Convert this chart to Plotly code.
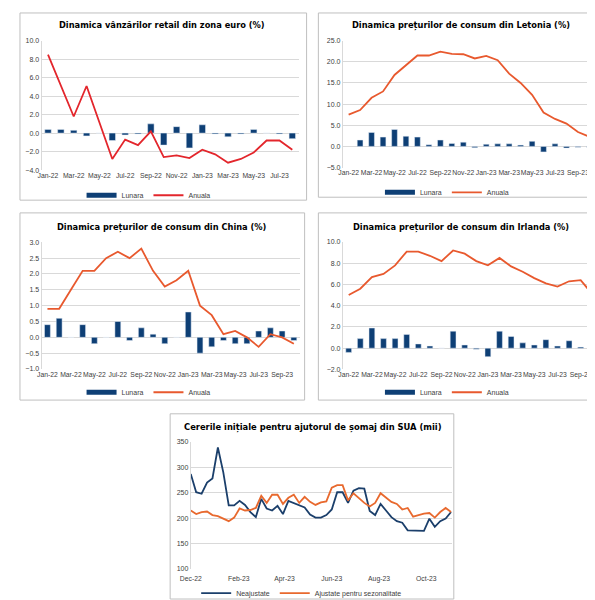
import plotly.graph_objects as go
import pandas as pd

# Dimensiunea paginii
W, H = 595, 600

# Luni (categorii) pentru graficele lunare
luni = ['Jan-22', 'Feb-22', 'Mar-22', 'Apr-22', 'May-22', 'Jun-22', 'Jul-22', 'Aug-22',
        'Sep-22', 'Oct-22', 'Nov-22', 'Dec-22', 'Jan-23', 'Feb-23', 'Mar-23', 'Apr-23',
        'May-23', 'Jun-23', 'Jul-23', 'Aug-23', 'Sep-23', 'Oct-23']
luni_euro = luni[:20]

# Zona euro - vanzari retail
euro_lunara = [0.4, 0.4, 0.3, -0.3, 0.0, -0.8, -0.2, -0.1, 1.0, -1.3, 0.7, -1.6,
               0.9, -0.1, -0.4, -0.1, 0.4, 0.0, -0.1, -0.6]
euro_anuala = [8.5, 5.2, 1.8, 5.1, 1.2, -2.8, -0.7, -1.3, 0.2, -2.6, -2.4, -2.7,
               -1.8, -2.3, -3.2, -2.8, -2.1, -0.8, -0.8, -1.8]

# Letonia - preturi de consum
letonia_lunara = [None, 1.5, 3.3, 2.2, 4.0, 2.4, 2.2, 0.4, 1.5, 0.7, 1.0, -0.3,
                  0.5, 0.6, 0.6, 0.3, 1.2, -1.3, 0.6, -0.4, -0.2, -0.2]
letonia_anuala = [7.5, 8.6, 11.5, 13.0, 16.9, 19.3, 21.5, 21.5, 22.4, 21.9, 21.8, 20.8,
                  21.4, 20.4, 17.2, 15.0, 12.2, 8.0, 6.5, 5.4, 3.4, 2.3]

# China - preturi de consum
china_lunara = [0.4, 0.6, 0.0, 0.4, -0.2, 0.0, 0.5, -0.1, 0.3, 0.1, -0.2, 0.0,
                0.8, -0.5, -0.3, -0.1, -0.2, -0.2, 0.2, 0.3, 0.2, -0.1]
china_anuala = [0.9, 0.9, 1.5, 2.1, 2.1, 2.5, 2.7, 2.5, 2.8, 2.1, 1.6, 1.8,
                2.1, 1.0, 0.7, 0.1, 0.2, 0.0, -0.3, 0.1, 0.0, -0.2]

# Irlanda - preturi de consum
irlanda_lunara = [-0.4, 0.9, 1.9, 0.9, 0.9, 1.3, 0.4, 0.2, 0.0, 1.6, 0.3, -0.1,
                  -0.8, 1.6, 1.1, 0.5, 0.3, 0.8, 0.2, 0.7, 0.1, 0.3]
irlanda_anuala = [5.0, 5.6, 6.7, 7.0, 7.8, 9.1, 9.1, 8.7, 8.2, 9.2, 8.9, 8.2,
                  7.8, 8.5, 7.7, 7.2, 6.6, 6.1, 5.8, 6.3, 6.4, 5.1]

# SUA - cereri initiale de somaj (mii), saptamanal
saptamani = pd.date_range('2022-12-01', periods=49, freq='7D')
somaj_neajustate = [287, 251, 248, 270, 278, 339, 290, 225, 225, 234, 226, 212, 202,
                    238, 219, 215, 224, 208, 234, 230, 225, 221, 207, 201, 201, 206,
                    217, 251, 251, 230, 254, 259, 258, 214, 206, 228, 215, 202, 194,
                    191, 176, 176, 176, 175, 199, 183, 194, 199, 212]
somaj_ajustate = [215, 208, 212, 213, 206, 204, 199, 194, 201, 219, 215, 216, 220,
                  244, 230, 246, 246, 228, 240, 246, 230, 242, 232, 226, 231, 233,
                  260, 265, 265, 235, 249, 239, 230, 223, 230, 249, 240, 232, 228,
                  217, 220, 203, 206, 209, 210, 201, 212, 220, 212]

BLEUMARIN = '#0E3F75'
ROSU = '#E3262C'
PORTOCALIU = '#E8592E'
GRI_TEXT = '#404040'
GRI_GRID = '#D9D9D9'
FONT = 'Liberation Sans, Arial, sans-serif'
# font ingust pentru titluri (cel mai apropiat de original)
FONT_TITLU = 'Liberation Sans Narrow, DejaVu Sans Condensed, Arial Narrow, sans-serif'


def px_x(v):
    return v / W


def px_y(v):
    return 1 - v / H


def add_frame(fig, box):
    """Chenarul gri al fiecarui grafic."""
    x0, y0, x1, y1 = box
    fig.add_shape(type='rect', xref='paper', yref='paper',
                  x0=px_x(x0), x1=px_x(x1), y0=px_y(y1), y1=px_y(y0),
                  line=dict(color='#BFBFBF', width=1), fillcolor='white', layer='below')


def add_title(fig, text, x, y, size=9.2):
    fig.add_annotation(text='<b>' + text + '</b>', xref='paper', yref='paper',
                       x=px_x(x), y=px_y(y), xanchor='center', yanchor='middle',
                       showarrow=False, font=dict(family=FONT_TITLU, size=size, color='#000000'))


def axes(fig, i, plot_box, yrange, dtick, yformat, xcfg):
    x0, y0, x1, y1 = plot_box
    sfx = '' if i == 1 else str(i)
    fig.update_layout({
        'xaxis' + sfx: dict(domain=[px_x(x0), px_x(x1)], anchor='y' + sfx,
                            showgrid=False, zeroline=False, showline=False,
                            ticks='', tickangle=0,
                            tickfont=dict(family=FONT, size=6.8, color=GRI_TEXT),
                            **xcfg),
        'yaxis' + sfx: dict(domain=[px_y(y1), px_y(y0)], anchor='x' + sfx,
                            range=yrange, dtick=dtick, tickformat=yformat,
                            showgrid=True, gridcolor=GRI_GRID, gridwidth=0.8,
                            zeroline=False, showline=True, linecolor=GRI_GRID,
                            ticks='', tickfont=dict(family=FONT, size=7, color=GRI_TEXT)),
    })


def legend_cfg(x, y):
    # decalaj mic spre stanga: cutia legendei plotly are spatiu in plus la dreapta
    return dict(orientation='h', x=px_x(x - 14), y=px_y(y), xanchor='center', yanchor='middle',
                bgcolor='rgba(0,0,0,0)', font=dict(family=FONT, size=7, color=GRI_TEXT),
                itemwidth=30, traceorder='normal')


def monthly_panel(fig, i, titlu, cat, lunara, anuala, culoare_linie, frame, plot_box,
                  titlu_pos, leg_pos, yrange, dtick):
    sfx = '' if i == 1 else str(i)
    xa, ya = 'x' + sfx, 'y' + sfx
    leg = 'legend' + sfx
    add_frame(fig, frame)
    add_title(fig, titlu, *titlu_pos)
    # intrare de legenda pentru bare (dreptunghi lat)
    fig.add_trace(go.Scatter(x=[cat[0]], y=[None], mode='lines', name='Lunara',
                             line=dict(color=BLEUMARIN, width=5), xaxis=xa, yaxis=ya,
                             legend=leg, hoverinfo='skip'))
    fig.add_trace(go.Bar(x=cat, y=lunara, name='Lunara', marker_color=BLEUMARIN,
                         width=0.5, xaxis=xa, yaxis=ya, showlegend=False))
    fig.add_trace(go.Scatter(x=cat, y=anuala, name='Anuala', mode='lines',
                             line=dict(color=culoare_linie, width=1.8),
                             xaxis=xa, yaxis=ya, legend=leg))
    axes(fig, i, plot_box, yrange, dtick, '.1f',
         dict(type='category', range=[-0.5, len(cat) - 0.5],
              tickmode='array', tickvals=cat[::2], ticktext=cat[::2]))
    fig.update_layout({leg: legend_cfg(*leg_pos)})


def main():
    fig = go.Figure()

    monthly_panel(fig, 1, 'Dinamica vânzărilor retail din zona euro (%)', luni_euro,
                  euro_lunara, euro_anuala, ROSU,
                  frame=(1, 1, 293, 192), plot_box=(23, 29.3, 285, 161.3),
                  titlu_pos=(146, 13), leg_pos=(146, 187), yrange=[-4, 10], dtick=2)
    monthly_panel(fig, 2, 'Dinamica prețurilor de consum din Letonia (%)', luni,
                  letonia_lunara, letonia_anuala, PORTOCALIU,
                  frame=(305, 1, 594, 189), plot_box=(330, 29.3, 587, 158.7),
                  titlu_pos=(450, 13), leg_pos=(450, 184), yrange=[-5, 25], dtick=5)
    monthly_panel(fig, 3, 'Dinamica prețurilor de consum din China (%)', luni,
                  china_lunara, china_anuala, PORTOCALIU,
                  frame=(1, 205, 291, 396), plot_box=(23, 235, 286, 364.3),
                  titlu_pos=(146, 219), leg_pos=(146, 388), yrange=[-1, 3], dtick=0.5)
    monthly_panel(fig, 4, 'Dinamica prețurilor de consum din Irlanda (%)', luni,
                  irlanda_lunara, irlanda_anuala, PORTOCALIU,
                  frame=(305, 205, 594, 396), plot_box=(330, 234.7, 590, 364.7),
                  titlu_pos=(450, 219), leg_pos=(450, 388), yrange=[-2, 10], dtick=2)

    # Graficul saptamanal SUA
    add_frame(fig, (154, 410, 443, 599))
    add_title(fig, 'Cererile inițiale pentru ajutorul de șomaj din SUA (mii)', 300, 423, size=9.3)
    fig.add_trace(go.Scatter(x=saptamani, y=somaj_neajustate, name='Neajustate', mode='lines',
                             line=dict(color='#1B3F6B', width=1.8), xaxis='x5', yaxis='y5',
                             legend='legend5'))
    fig.add_trace(go.Scatter(x=saptamani, y=somaj_ajustate, name='Ajustate pentru sezonalitate',
                             mode='lines', line=dict(color='#E8692E', width=1.8),
                             xaxis='x5', yaxis='y5', legend='legend5'))
    axes(fig, 5, (175, 438.7, 441, 568.3), [100, 350], 50, 'd',
         dict(type='date', range=['2022-12-01', '2023-11-03'], dtick='M2',
              tick0='2022-12-01', tickformat='%b-%y', ticklabelstandoff=4))
    fig.update_layout(legend5=legend_cfg(302, 593))

    fig.update_layout(
        width=W, height=H,
        margin=dict(l=0, r=0, t=0, b=0),
        paper_bgcolor='white',
        plot_bgcolor='rgba(0,0,0,0)',
        bargap=0.5,
    )

    fig.write_html('out.html')


if __name__ == '__main__':
    main()
